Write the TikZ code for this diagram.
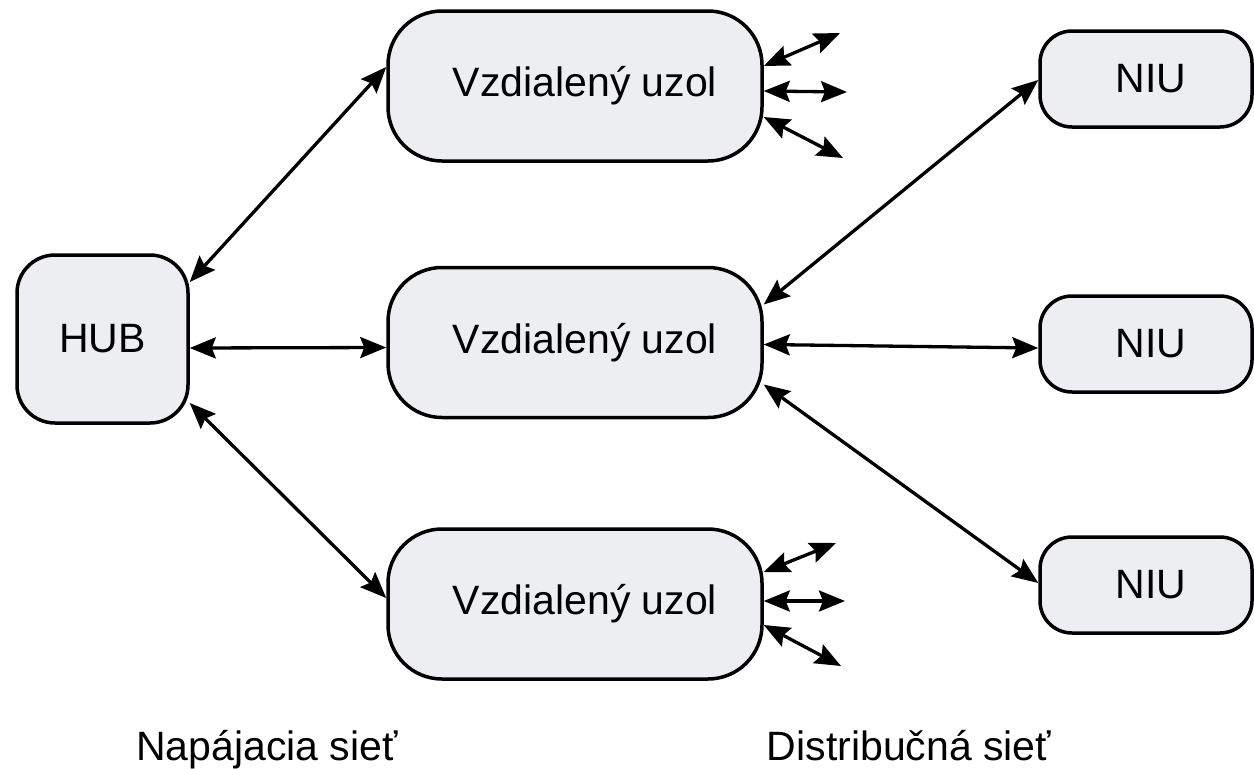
\documentclass[tikz,border=0pt]{standalone}
\usepackage{fontspec}
\setmainfont{Liberation Sans}
\usetikzlibrary{arrows.meta}
\definecolor{boxfill}{RGB}{236,238,241}
\begin{document}
\begin{tikzpicture}[x=1pt,y=-1pt,
  box/.style={draw=black,line width=3.5pt,fill=boxfill,inner sep=0pt,
    font=\fontsize{41}{46}\selectfont},
  hubbox/.style={box,rounded corners=38pt,minimum width=171pt,minimum height=168pt},
  remote/.style={box,rounded corners=54pt,minimum width=374pt,minimum height=150pt,
    execute at begin node={\hspace*{20pt}}},
  niubox/.style={box,rounded corners=32pt,minimum width=212pt,minimum height=96pt,
    execute at begin node={\hspace*{10pt}}},
  arr/.style={line width=3.3pt,{Stealth[length=26pt,width=21pt,inset=4pt]}-{Stealth[length=26pt,width=21pt,inset=4pt]}},
  lab/.style={font=\fontsize{41}{46}\selectfont,anchor=base,inner sep=0pt}]
\useasboundingbox (0,0) rectangle (1254,769);
\node[hubbox] (hub) at (102.5,339) {HUB};
\node[remote] (r1) at (575,86) {Vzdialený uzol};
\node[remote] (r2) at (575,342.5) {Vzdialený uzol};
\node[remote] (r3) at (575,604) {Vzdialený uzol};
\node[niubox] (n1) at (1146,79) {NIU};
\node[niubox] (n2) at (1146,344) {NIU};
\node[niubox] (n3) at (1146,585) {NIU};
% hub connections
\draw[arr] ([yshift=57pt]hub.east) -- ([yshift=19pt]r1.west);
\draw[arr] ([yshift=-9pt]hub.east) -- ([yshift=-5pt]r2.west);
\draw[arr] ([yshift=-64pt]hub.east) -- ([yshift=6pt]r3.west);
% distribution
\draw[arr] ([yshift=38pt]r2.east) -- ([yshift=-1pt]n1.west);
\draw[arr] ([yshift=-2pt]r2.east) -- ([yshift=-4pt]n2.west);
\draw[arr] ([yshift=-42pt]r2.east) -- ([yshift=2pt]n3.west);
% stubs top
\coordinate (a1) at (840,33);
\coordinate (a2) at (847,92);
\coordinate (a3) at (843,158);
\draw[arr] ([yshift=20pt]r1.east) -- (a1);
\draw[arr] ([yshift=-5pt]r1.east) -- (a2);
\draw[arr] ([yshift=-31pt]r1.east) -- (a3);
% stubs bottom
\coordinate (b1) at (836,543);
\coordinate (b2) at (845,601);
\coordinate (b3) at (841,666);
\draw[arr] ([yshift=32pt]r3.east) -- (b1);
\draw[arr] ([yshift=3pt]r3.east) -- (b2);
\draw[arr] ([yshift=-21pt]r3.east) -- (b3);
\node[lab] (l1) at (267,760) {Napájacia sieť};
\node[lab] (l2) at (909,760) {Distribučná sieť};
\end{tikzpicture}
\end{document}
